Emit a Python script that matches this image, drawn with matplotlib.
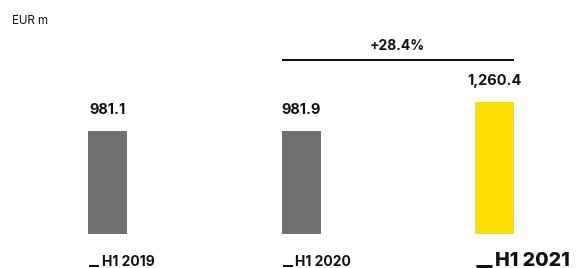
#!/usr/bin/env python3
"""Bar chart: EUR m, H1 2019 - H1 2021."""

from matplotlib import pyplot as plt
from matplotlib.lines import Line2D
from matplotlib.transforms import IdentityTransform

categories = ["H1 2019", "H1 2020", "H1 2021"]
values = [981.1, 981.9, 1260.4]
value_labels = ["981.1", "981.9", "1,260.4"]
growth_label = "+28.4%"

GRAY = "#707070"
YELLOW = "#FFDD00"
INK = "#111111"


def main():
    plt.rcParams["font.family"] = ["Inter", "DejaVu Sans"]
    fig = plt.figure(figsize=(5.79, 2.68), dpi=100)

    # pixel mapping: baseline 34 px from bottom, 0.1047 px per EUR m
    px_per_unit = 0.1047
    ax = fig.add_axes([0, 34 / 268, 1, 234 / 268])
    ax.set_ylim(0, 234 / px_per_unit)
    ax.set_xlim(-107.5 / 193.5, (579 - 107.5) / 193.5)
    ax.axis("off")

    width = 39 / 193.5
    x = list(range(len(categories)))
    colors = [GRAY, GRAY, YELLOW]
    ax.bar(x, values, width=width, color=colors)

    for xi, v, lab in zip(x, values, value_labels):
        ax.annotate(lab, (xi, v), xytext=(0, 10), textcoords="offset points",
                    ha="center", va="bottom", fontsize=10.5,
                    fontweight="bold", color=INK)

    # category labels: short dash + text, left edge at the bar's left edge
    ident = IdentityTransform()
    for i, cat in enumerate(categories):
        big = i == len(categories) - 1
        left = ax.transData.transform((x[i] - width / 2, 0))[0]
        if big:
            dash_x, dash_y, dash_w = (left + 1, left + 17), 2.0, 3.0
            fig.text(left + 20, 1.5, cat, transform=ident, ha="left",
                     va="baseline", fontsize=14.2, fontweight="heavy",
                     color=INK)
        else:
            dash_x, dash_y, dash_w = (left + 1, left + 11), 2.0, 2.0
            fig.text(left + 13.5, 1.5, cat, transform=ident, ha="left",
                     va="baseline", fontsize=10, fontweight="bold",
                     color=INK)
        fig.add_artist(Line2D(dash_x, (dash_y, dash_y), transform=ident,
                              color=INK, lw=dash_w * 0.72,
                              solid_capstyle="butt"))

    # growth bracket between H1 2020 and H1 2021
    y_line = (234 - 60) / px_per_unit
    ax.plot([x[1] - width / 2, x[2] + width / 2], [y_line, y_line],
            color=INK, lw=1.5, solid_capstyle="butt")
    ax.annotate(growth_label, ((x[1] + x[2]) / 2, y_line), xytext=(0, 5),
                textcoords="offset points", ha="center", va="bottom",
                fontsize=10, fontweight="bold", color=INK)

    fig.text(12 / 579, 1 - 21.5 / 268, "EUR m", ha="left", va="center",
             fontsize=8.3, color=INK)

    fig.savefig("out.png", dpi=100)


if __name__ == "__main__":
    main()
